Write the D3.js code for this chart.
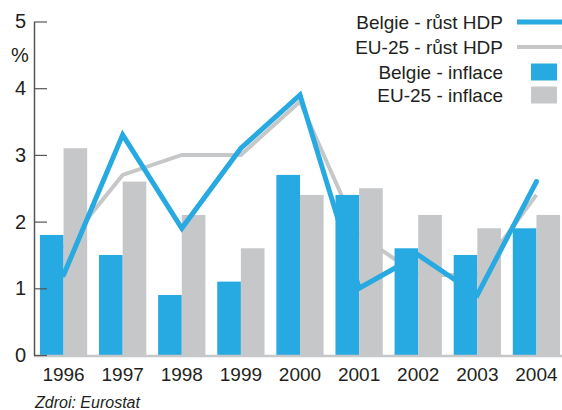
<!DOCTYPE html>
<html>
<head>
<meta charset="utf-8">
<script src="https://cdn.jsdelivr.net/npm/d3@7"></script>
<style>
  body { margin: 0; background: #fff; }
  svg text { font-family: "Liberation Sans Narrow", "Arial Narrow", "Liberation Sans", sans-serif; fill: #231f20; }
</style>
</head>
<body>
<div id="chart"></div>
<script>
var years = ['1996', '1997', '1998', '1999', '2000', '2001', '2002', '2003', '2004'];
var beInflation = [1.8, 1.5, 0.9, 1.1, 2.7, 2.4, 1.6, 1.5, 1.9];
var euInflation = [3.1, 2.6, 2.1, 1.6, 2.4, 2.5, 2.1, 1.9, 2.1];
var beGrowth = [1.2, 3.3, 1.9, 3.1, 3.9, 1.0, 1.5, 0.9, 2.6];
var euGrowth = [1.6, 2.7, 3.0, 3.0, 3.8, 1.8, 1.2, 1.2, 2.4];
var yTicks = [0, 1, 2, 3, 4, 5];
var legendLabels = ['Belgie - růst HDP', 'EU-25 - růst HDP', 'Belgie - inflace', 'EU-25 - inflace'];

var width = 562;
var height = 410;
var blue = '#27a9e1';
var grey = '#c6c7c9';

var svg = d3.select('#chart').append('svg')
  .attr('width', width)
  .attr('height', height);

var x = d3.scaleBand()
  .domain(years)
  .range([34, 566])
  .paddingInner(0.2)
  .paddingOuter(0.1);

var x1 = d3.scaleBand()
  .domain(['be', 'eu'])
  .range([0, x.bandwidth()]);

var y = d3.scaleLinear()
  .domain([0, 5])
  .range([355, 21.5]);

var line = d3.line()
  .x(function(d, i) { return x(years[i]) + x.bandwidth() / 2; })
  .y(function(d) { return y(d); });

// grey growth line sits behind the bars
svg.append('path')
  .attr('d', line(euGrowth))
  .attr('fill', 'none')
  .attr('stroke', grey)
  .attr('stroke-width', 4);

var groups = svg.selectAll('.year')
  .data(years)
  .enter().append('g')
  .attr('transform', function(d) { return 'translate(' + x(d) + ',0)'; });

groups.append('rect')
  .attr('x', x1('be'))
  .attr('width', x1.bandwidth())
  .attr('y', function(d, i) { return y(beInflation[i]); })
  .attr('height', function(d, i) { return y(0) - y(beInflation[i]); })
  .attr('fill', blue);

groups.append('rect')
  .attr('x', x1('eu'))
  .attr('width', x1.bandwidth())
  .attr('y', function(d, i) { return y(euInflation[i]); })
  .attr('height', function(d, i) { return y(0) - y(euInflation[i]); })
  .attr('fill', grey);

svg.append('path')
  .attr('d', line(beGrowth))
  .attr('fill', 'none')
  .attr('stroke', blue)
  .attr('stroke-width', 5)
  .attr('stroke-linejoin', 'miter')
  .attr('stroke-linecap', 'round');

// baseline
svg.append('line')
  .attr('x1', 34).attr('x2', width)
  .attr('y1', y(0) + 1).attr('y2', y(0) + 1)
  .attr('stroke', grey)
  .attr('stroke-width', 2.5);

var yAxis = svg.append('g')
  .attr('transform', 'translate(34,0)')
  .call(d3.axisLeft(y).tickValues(yTicks).tickFormat(d3.format('d'))
    .tickSize(-13).tickSizeOuter(0).tickPadding(8));
yAxis.select('.domain').attr('stroke', '#555').attr('stroke-width', 1.5);
yAxis.selectAll('.tick line').attr('stroke', '#555').attr('stroke-width', 1.2);
yAxis.selectAll('.tick text').attr('font-size', 20).style('font-family', null);

svg.append('text')
  .attr('x', 20).attr('y', 62)
  .attr('text-anchor', 'middle')
  .attr('font-size', 20)
  .text('%');

var xAxis = svg.append('g')
  .attr('transform', 'translate(0,' + y(0) + ')')
  .call(d3.axisBottom(x).tickSize(0).tickPadding(13));
xAxis.select('.domain').remove();
xAxis.selectAll('.tick text').attr('font-size', 19);

svg.append('text')
  .attr('x', 35).attr('y', 408)
  .attr('font-size', 16)
  .attr('font-style', 'italic')
  .text('Zdroi: Eurostat');

// legend
var legendY = [22, 47, 72, 95];
var legend = svg.selectAll('.legend')
  .data(legendLabels)
  .enter().append('g')
  .attr('transform', function(d, i) { return 'translate(0,' + legendY[i] + ')'; });

legend.append('text')
  .attr('x', 503)
  .attr('dy', '0.35em')
  .attr('text-anchor', 'end')
  .attr('font-size', 19)
  .text(function(d) { return d; });

legend.filter(function(d, i) { return i < 2; }).append('line')
  .attr('x1', 517).attr('x2', width)
  .attr('stroke', function(d, i) { return i === 0 ? blue : grey; })
  .attr('stroke-width', function(d, i) { return i === 0 ? 5 : 4; });

legend.filter(function(d, i) { return i >= 2; }).append('rect')
  .attr('x', 531).attr('y', -8.5)
  .attr('width', 26).attr('height', 17)
  .attr('fill', function(d, i) { return i === 0 ? blue : grey; });
</script>
</body>
</html>
